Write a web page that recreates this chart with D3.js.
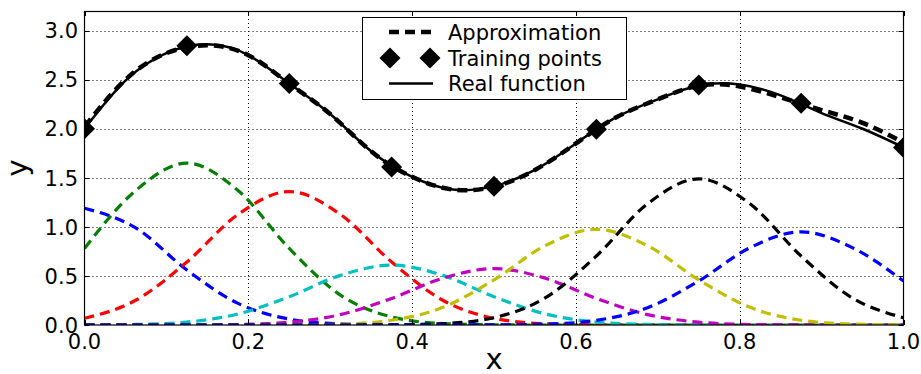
<!DOCTYPE html>
<html>
<head>
<meta charset="utf-8">
<script src="https://cdn.jsdelivr.net/npm/d3@7"></script>
<style>
  body { margin: 0; background: #fff; }
  svg { display: block; font-family: "DejaVu Sans", sans-serif; }
</style>
</head>
<body>
<div id="chart"></div>
<script>
// basis function grid (x = 0 .. 1 step 1/16)
const xGrid = [0, 0.0625, 0.125, 0.1875, 0.25, 0.3125, 0.375, 0.4375, 0.5,
  0.5625, 0.625, 0.6875, 0.75, 0.8125, 0.875, 0.9375, 1];

const basisBlue0 = [1.19, 0.99, 0.56, 0.22, 0.06, 0.011, 0.001, 0, 0, 0, 0, 0, 0, 0, 0, 0, 0];
const basisGreen = [0.78, 1.37, 1.65, 1.37, 0.78, 0.305, 0.082, 0.015, 0.002, 0, 0, 0, 0, 0, 0, 0, 0];
const basisRed = [0.068, 0.252, 0.642, 1.127, 1.36, 1.127, 0.642, 0.252, 0.068, 0.0125, 0.0016, 0, 0, 0, 0, 0, 0];
const basisCyan = [0.0007, 0.0056, 0.03, 0.113, 0.288, 0.506, 0.61, 0.506, 0.288, 0.113, 0.03, 0.0056, 0.0007, 0, 0, 0, 0];
const basisMagenta = [0, 0, 0.0007, 0.0053, 0.0286, 0.106, 0.271, 0.477, 0.575, 0.477, 0.271, 0.106, 0.0286, 0.0053, 0.0007, 0, 0];
const basisYellow = [0, 0, 0, 0, 0.0011, 0.009, 0.0486, 0.18, 0.46, 0.808, 0.975, 0.808, 0.46, 0.18, 0.0486, 0.009, 0.0011];
const basisBlack = [0, 0, 0, 0, 0, 0, 0.0017, 0.0137, 0.0742, 0.276, 0.703, 1.235, 1.49, 1.235, 0.703, 0.276, 0.0742];
const basisBlue1 = [0, 0, 0, 0, 0, 0, 0, 0, 0.0011, 0.0087, 0.0473, 0.176, 0.448, 0.788, 0.95, 0.788, 0.448];

const basisColors = ['#0000ff', '#008000', '#ff0000', '#00bfbf', '#bf00bf', '#bfbf00', '#000000', '#0000ff'];
const basisSeries = [basisBlue0, basisGreen, basisRed, basisCyan, basisMagenta, basisYellow, basisBlack, basisBlue1];

// function curves (x = 0 .. 1 step 0.05)
const xFine = [0, 0.05, 0.1, 0.15, 0.2, 0.25, 0.3, 0.35, 0.4, 0.45, 0.5,
  0.55, 0.6, 0.65, 0.7, 0.75, 0.8, 0.85, 0.9, 0.95, 1];
const realFunction = [2.0, 2.49, 2.77, 2.86, 2.75, 2.46, 2.15, 1.77, 1.51, 1.38, 1.415,
  1.58, 1.85, 2.12, 2.3, 2.44, 2.45, 2.34, 2.16, 2.0, 1.81];
const approximation = [2.02, 2.5, 2.77, 2.85, 2.75, 2.46, 2.15, 1.77, 1.51, 1.38, 1.41,
  1.58, 1.85, 2.12, 2.3, 2.44, 2.43, 2.32, 2.19, 2.06, 1.86];

const trainX = [0, 0.125, 0.25, 0.375, 0.5, 0.625, 0.75, 0.875, 1];
const trainY = [2.0, 2.845, 2.46, 1.61, 1.415, 1.995, 2.445, 2.26, 1.81];

const xTicks = [0, 0.2, 0.4, 0.6, 0.8, 1.0];
const yTicks = [0, 0.5, 1.0, 1.5, 2.0, 2.5, 3.0];
const legendLabels = ['Approximation', 'Training points', 'Real function'];

const width = 921, height = 374;
const plotLeft = 84.5, plotRight = 903.5, plotTop = 11, plotBottom = 325;

const svg = d3.select('#chart').append('svg')
  .attr('width', width)
  .attr('height', height);

const x = d3.scaleLinear().domain([0, 1]).range([plotLeft, plotRight]);
const y = d3.scaleLinear().domain([0, 3.2]).range([plotBottom, plotTop]);

svg.append('clipPath').attr('id', 'plot-clip')
  .append('rect')
  .attr('x', plotLeft).attr('y', plotTop)
  .attr('width', plotRight - plotLeft).attr('height', plotBottom - plotTop);

// grid
const grid = svg.append('g');
grid.selectAll('.vgrid')
  .data(xTicks.slice(1, -1))
  .enter().append('line')
  .attr('x1', d => Math.round(x(d)) + 0.5).attr('x2', d => Math.round(x(d)) + 0.5)
  .attr('y1', plotTop).attr('y2', plotBottom)
  .attr('stroke', '#000').attr('stroke-width', 1).attr('stroke-dasharray', '1,3');
grid.selectAll('.hgrid')
  .data(yTicks.slice(1))
  .enter().append('line')
  .attr('x1', plotLeft).attr('x2', plotRight)
  .attr('y1', d => Math.round(y(d)) + 0.5).attr('y2', d => Math.round(y(d)) + 0.5)
  .attr('stroke', '#000').attr('stroke-width', 1).attr('stroke-dasharray', '1,3');

const plot = svg.append('g').attr('clip-path', 'url(#plot-clip)');

// basis functions
const basisLine = d3.line()
  .x((d, i) => x(xGrid[i]))
  .y(d => y(d))
  .curve(d3.curveMonotoneX);

plot.selectAll('.basis')
  .data(basisSeries)
  .enter().append('path')
  .attr('d', basisLine)
  .attr('fill', 'none')
  .attr('stroke', (d, i) => basisColors[i])
  .attr('stroke-width', 3.2)
  .attr('stroke-dasharray', '10,6');

const fineLine = d3.line()
  .x((d, i) => x(xFine[i]))
  .y(d => y(d))
  .curve(d3.curveNatural);

plot.append('path')
  .attr('d', fineLine(approximation))
  .attr('fill', 'none')
  .attr('stroke', '#000')
  .attr('stroke-width', 4.5)
  .attr('stroke-dasharray', '10,6');

const diamond = 'M0,-10.5L10.5,0L0,10.5L-10.5,0Z';

plot.selectAll('.train')
  .data(trainX)
  .enter().append('path')
  .attr('d', diamond)
  .attr('transform', (d, i) => `translate(${x(d)},${y(trainY[i])})`)
  .attr('fill', '#000');

plot.append('path')
  .attr('d', fineLine(realFunction))
  .attr('fill', 'none')
  .attr('stroke', '#000')
  .attr('stroke-width', 2.5);

// frame
svg.append('rect')
  .attr('x', plotLeft).attr('y', plotTop + 0.5)
  .attr('width', plotRight - plotLeft).attr('height', plotBottom - plotTop - 0.5)
  .attr('fill', 'none').attr('stroke', '#000').attr('stroke-width', 1.2);

// ticks (inside, all four sides)
const ticks = svg.append('g').attr('stroke', '#000').attr('stroke-width', 1);
xTicks.forEach(t => {
  const px = Math.round(x(t)) + 0.5;
  ticks.append('line').attr('x1', px).attr('x2', px).attr('y1', plotBottom).attr('y2', plotBottom - 5);
  ticks.append('line').attr('x1', px).attr('x2', px).attr('y1', plotTop).attr('y2', plotTop + 5);
});
yTicks.forEach(t => {
  const py = Math.round(y(t)) + 0.5;
  ticks.append('line').attr('x1', plotLeft).attr('x2', plotLeft + 5).attr('y1', py).attr('y2', py);
  ticks.append('line').attr('x1', plotRight).attr('x2', plotRight - 5).attr('y1', py).attr('y2', py);
});

svg.selectAll('.xlab')
  .data(xTicks)
  .enter().append('text')
  .attr('x', d => x(d))
  .attr('y', 348.5)
  .attr('text-anchor', 'middle')
  .style('font-size', '21px')
  .text(d => d3.format('.1f')(d));

svg.selectAll('.ylab')
  .data(yTicks)
  .enter().append('text')
  .attr('x', 78)
  .attr('y', d => y(d) + 7.7)
  .attr('text-anchor', 'end')
  .style('font-size', '21px')
  .text(d => d3.format('.1f')(d));

svg.append('text')
  .attr('x', (plotLeft + plotRight) / 2)
  .attr('y', 369)
  .attr('text-anchor', 'middle')
  .style('font-size', '29px')
  .text('x');

svg.append('text')
  .attr('transform', `translate(27,${(plotTop + plotBottom) / 2}) rotate(-90)`)
  .attr('text-anchor', 'middle')
  .style('font-size', '29px')
  .text('y');

// legend
const legend = svg.append('g');
legend.append('rect')
  .attr('x', 362.5).attr('y', 17.5)
  .attr('width', 264).attr('height', 82)
  .attr('fill', '#fff').attr('stroke', '#000').attr('stroke-width', 1);

const rowY = [32, 58, 83.5];
legend.append('line')
  .attr('x1', 389).attr('x2', 433).attr('y1', rowY[0]).attr('y2', rowY[0])
  .attr('stroke', '#000').attr('stroke-width', 4.5).attr('stroke-dasharray', '10,6');
[390, 430].forEach(cx => {
  legend.append('path').attr('d', diamond)
    .attr('transform', `translate(${cx},${rowY[1]})`).attr('fill', '#000');
});
legend.append('line')
  .attr('x1', 389).attr('x2', 433).attr('y1', rowY[2]).attr('y2', rowY[2])
  .attr('stroke', '#000').attr('stroke-width', 2.5);

legend.selectAll('.leg')
  .data(legendLabels)
  .enter().append('text')
  .attr('x', 448)
  .attr('y', (d, i) => rowY[i] + 7.5)
  .style('font-size', '21px')
  .text(d => d);
</script>
</body>
</html>
